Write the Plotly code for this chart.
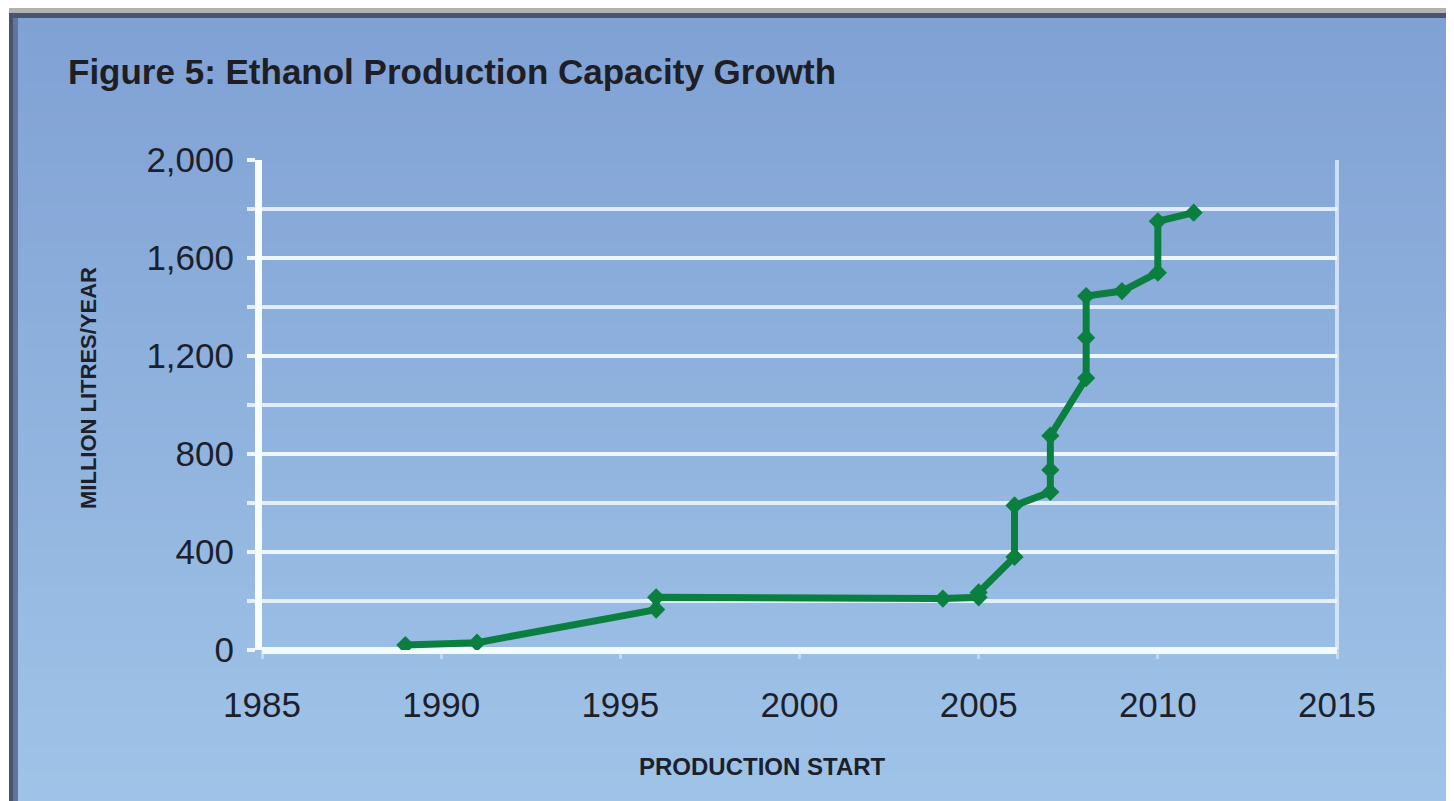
import plotly.graph_objects as go

# ---- data ----
years = [1989, 1991, 1996, 1996, 2004, 2005, 2005, 2006, 2006, 2007, 2007, 2007,
         2008, 2008, 2008, 2009, 2010, 2010, 2011]
capacity = [20, 30, 165, 215, 210, 215, 235, 380, 590, 645, 735, 875,
            1110, 1275, 1445, 1465, 1540, 1750, 1785]
x_ticks = [1985, 1990, 1995, 2000, 2005, 2010, 2015]
y_ticks = [0, 400, 800, 1200, 1600, 2000]
title_text = "Figure 5: Ethanol Production Capacity Growth"
y_title = "MILLION LITRES/YEAR"
x_title = "PRODUCTION START"

W, H = 1454, 801
OFF = 8  # page offset of the figure (body margin)
L, R, T, B = 262 - OFF, 1337 - OFF, 160 - OFF, 650 - OFF  # plot area in figure px


def xp(px):
    """page pixel x -> paper coordinate"""
    return (px - OFF - L) / (R - L)


def yp(py):
    """page pixel y -> paper coordinate"""
    return (B - (py - OFF)) / (B - T)


shapes = []
# gradient background
top_c = (128, 161, 212)
bot_c = (160, 196, 232)
n = 60
y_start = 18
y_end = H + OFF + 4
for i in range(n):
    y0 = y_start + (y_end - y_start) * i / n
    y1 = y_start + (y_end - y_start) * (i + 1) / n + 1
    t = i / (n - 1)
    c = tuple(round(top_c[k] + (bot_c[k] - top_c[k]) * t) for k in range(3))
    shapes.append(dict(type="rect", xref="paper", yref="paper",
                       x0=xp(18), x1=xp(W + OFF + 4), y0=yp(y1), y1=yp(y0),
                       fillcolor="rgb(%d,%d,%d)" % c, line=dict(width=0), layer="below"))
# frame bands
shapes.append(dict(type="rect", xref="paper", yref="paper", x0=xp(9), x1=xp(W + OFF + 4),
                   y0=yp(13), y1=yp(8), fillcolor="#b2b2b2", line=dict(width=0), layer="below"))
shapes.append(dict(type="rect", xref="paper", yref="paper", x0=xp(9), x1=xp(W + OFF + 4),
                   y0=yp(18), y1=yp(13), fillcolor="#475570", line=dict(width=0), layer="below"))
shapes.append(dict(type="rect", xref="paper", yref="paper", x0=xp(9), x1=xp(13),
                   y0=yp(y_end), y1=yp(13), fillcolor="#475570", line=dict(width=0), layer="below"))
shapes.append(dict(type="rect", xref="paper", yref="paper", x0=xp(13), x1=xp(18),
                   y0=yp(y_end), y1=yp(18), fillcolor="#62759a", line=dict(width=0), layer="below"))
# right border line of plot area
shapes.append(dict(type="line", xref="paper", yref="paper", x0=1, x1=1, y0=0, y1=1,
                   line=dict(color="rgba(230,240,255,0.75)", width=4), layer="below"))

fig = go.Figure()
fig.add_trace(go.Scatter(
    x=years, y=capacity, mode="lines+markers",
    line=dict(color="#0a7f3f", width=7),
    marker=dict(symbol="diamond", size=14, color="#0a7f3f"),
    hoverinfo="skip", showlegend=False,
))

tick_font = dict(family="Liberation Sans, Arial, sans-serif", size=35, color="#1c1f2c")
bold_font = "Liberation Sans, Arial, sans-serif"

fig.update_layout(
    width=W, height=H,
    margin=dict(l=L, r=W - R, t=T, b=H - B, pad=0),
    paper_bgcolor="white",
    plot_bgcolor="rgba(0,0,0,0)",
    shapes=shapes,
    title=dict(text="<b>" + title_text + "</b>", x=(68 - OFF) / W, xanchor="left",
               y=1 - (72 - OFF) / H, yanchor="middle", xref="container", yref="container",
               font=dict(family=bold_font, size=35, color="#1e1e24")),
    xaxis=dict(range=[1985, 2015], tickvals=x_ticks, showgrid=False, zeroline=False,
               showline=False, ticks="outside", ticklen=8, tickwidth=3,
               tickcolor="rgba(235,245,255,0.45)", ticklabelstandoff=16,
               tickfont=tick_font),
    yaxis=dict(range=[0, 2000], tickvals=y_ticks, tickformat=",",
               showgrid=True, gridcolor="rgba(240,248,255,0.85)", gridwidth=4,
               minor=dict(dtick=200, showgrid=True, gridcolor="rgba(240,248,255,0.85)",
                          gridwidth=4, ticks="outside", ticklen=8,
                          tickcolor="rgba(240,248,255,0.85)", tickwidth=4),
               ticks="outside", ticklen=8, tickwidth=4, tickcolor="rgba(240,248,255,0.85)",
               zeroline=True, zerolinecolor="#f2fcff", zerolinewidth=7,
               showline=True, linecolor="#f8fdff", linewidth=7,
               ticklabelstandoff=6, tickfont=tick_font),
    annotations=[
        dict(text="<b>" + y_title + "</b>", xref="paper", yref="paper",
             x=xp(88), y=yp(388), textangle=-90, showarrow=False,
             xanchor="center", yanchor="middle",
             font=dict(family=bold_font, size=22, color="#1c1f2c")),
        dict(text="<b>" + x_title + "</b>", xref="paper", yref="paper",
             x=xp(762), y=yp(766), showarrow=False,
             xanchor="center", yanchor="middle",
             font=dict(family=bold_font, size=24, color="#1c1f2c")),
    ],
)

fig.write_html("out.html")
